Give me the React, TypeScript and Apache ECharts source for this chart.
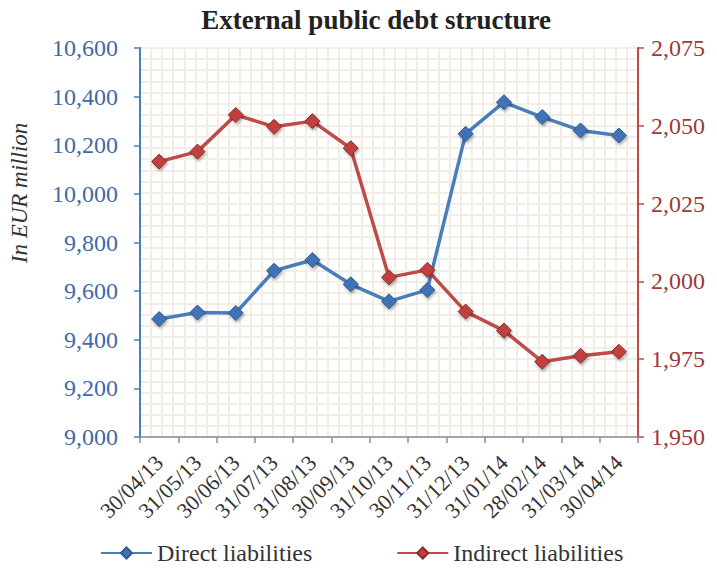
import React, { useEffect, useRef } from "react";
import * as echarts from "echarts";

const categories = [
  "30/04/13", "31/05/13", "30/06/13", "31/07/13", "31/08/13", "30/09/13", "31/10/13",
  "30/11/13", "31/12/13", "31/01/14", "28/02/14", "31/03/14", "30/04/14",
];
const directLiabilities = [9485, 9512, 9510, 9684, 9728, 9628, 9558, 9605, 10247, 10377, 10316, 10261, 10240];
const indirectLiabilities = [2038.5, 2041.7, 2053.5, 2049.7, 2051.5, 2042.8, 2001.3, 2003.7, 1990.3, 1984.2, 1974.2, 1976.1, 1977.4];

const FONT = "'Liberation Serif', 'Times New Roman', serif";
const BLUE = "#4a7ebb";
const RED = "#be4b48";
const GRIDC = "#f1eee6";

export default function App() {
  const ref = useRef<HTMLDivElement>(null);
  useEffect(() => {
    if (!ref.current) return;
    const chart = echarts.init(ref.current, undefined, { renderer: "svg" });
    const fmt = (v: number) => v.toLocaleString("en-US");
    chart.setOption({
      animation: false,
      backgroundColor: "#ffffff",
      textStyle: { fontFamily: FONT },
      title: {
        text: "External public debt structure",
        left: 371,
        textAlign: "center",
        top: 1,
        textStyle: { fontFamily: FONT, fontSize: 27, fontWeight: "bold", color: "#222" },
      },
      graphic: [
        {
          type: "text",
          x: 19,
          y: 193,
          rotation: Math.PI / 2,
          style: {
            text: "In EUR million",
            font: `italic 23px ${FONT}`,
            fill: "#333",
            textAlign: "center",
            textVerticalAlign: "middle",
          },
        },
      ],
      legend: {
        bottom: 1,
        left: 95,
        itemGap: 84,
        itemWidth: 51,
        itemHeight: 14,
        textStyle: { fontFamily: FONT, fontSize: 24, color: "#333" },
        data: ["Direct liabilities", "Indirect liabilities"],
      },
      grid: { left: 140, right: 79, top: 48, bottom: 134, containLabel: false },
      xAxis: [
        {
          type: "category",
          data: categories,
          boundaryGap: true,
          axisLine: { lineStyle: { color: "#8c8c8c", width: 1.5 } },
          axisTick: { show: true, length: 6, lineStyle: { color: "#8c8c8c", width: 1.5 } },
          axisLabel: {
            rotate: 45,
            fontFamily: FONT,
            fontSize: 22,
            color: "#333",
            margin: 22,
            interval: 0,
          },
          splitLine: { show: false },
        },
        {
          type: "value",
          min: 0,
          max: 45,
          interval: 1,
          position: "top",
          axisLine: { show: false },
          axisTick: { show: false },
          axisLabel: { show: false },
          splitLine: { show: true, lineStyle: { color: GRIDC, width: 2 } },
          z: 0,
        },
      ],
      yAxis: [
        {
          type: "value",
          min: 9000,
          max: 10600,
          interval: 200,
          position: "left",
          axisLine: { show: true, lineStyle: { color: BLUE, width: 2 } },
          axisTick: { show: true, length: 6, lineStyle: { color: BLUE, width: 1.5 } },
          axisLabel: { fontFamily: FONT, fontSize: 24, color: "#3f6aa8", margin: 22, formatter: fmt },
          splitLine: { show: false },
        },
        {
          type: "value",
          min: 1950,
          max: 2075,
          interval: 25,
          position: "right",
          axisLine: { show: true, lineStyle: { color: RED, width: 2 } },
          axisTick: { show: true, length: 6, lineStyle: { color: RED, width: 1.5 } },
          axisLabel: { fontFamily: FONT, fontSize: 24, color: "#9e3a39", margin: 13, formatter: fmt },
          splitLine: { show: false },
        },
        {
          type: "value",
          min: 0,
          max: 35,
          interval: 1,
          position: "left",
          axisLine: { show: false },
          axisTick: { show: false },
          axisLabel: { show: false },
          splitLine: { show: true, lineStyle: { color: GRIDC, width: 2 } },
          z: 0,
        },
      ],
      series: [
        {
          name: "Direct liabilities",
          type: "line",
          xAxisIndex: 0,
          yAxisIndex: 0,
          data: directLiabilities,
          symbol: "diamond",
          symbolSize: 15,
          lineStyle: { color: BLUE, width: 3.5 },
          itemStyle: { color: "#3f72b5", borderColor: "#2e5a91", borderWidth: 1, shadowColor: "rgba(0,0,0,0.35)", shadowBlur: 3, shadowOffsetX: 1, shadowOffsetY: 2 },
          z: 3,
        },
        {
          name: "Indirect liabilities",
          type: "line",
          xAxisIndex: 0,
          yAxisIndex: 1,
          data: indirectLiabilities,
          symbol: "diamond",
          symbolSize: 15,
          lineStyle: { color: RED, width: 3.5 },
          itemStyle: { color: "#c0403c", borderColor: "#8e2c2a", borderWidth: 1, shadowColor: "rgba(0,0,0,0.35)", shadowBlur: 3, shadowOffsetX: 1, shadowOffsetY: 2 },
          z: 3,
        },
      ],
    });
    return () => chart.dispose();
  }, []);
  return <div ref={ref} style={{ width: 717, height: 571, margin: -8 }} />;
}
